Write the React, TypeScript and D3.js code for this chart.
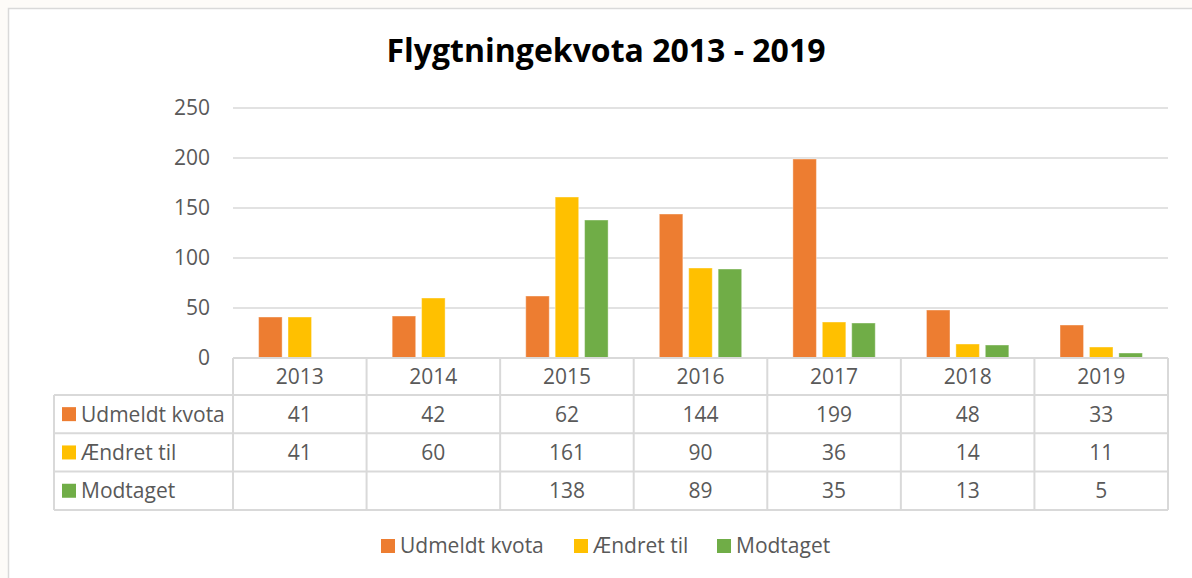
import React from "react";
import * as d3 from "d3";

const years = ["2013", "2014", "2015", "2016", "2017", "2018", "2019"];
const seriesNames = ["Udmeldt kvota", "Ændret til", "Modtaget"];
const seriesColors = ["#ED7D31", "#FFC000", "#70AD47"];
const udmeldt: (number | null)[] = [41, 42, 62, 144, 199, 48, 33];
const aendret: (number | null)[] = [41, 60, 161, 90, 36, 14, 11];
const modtaget: (number | null)[] = [null, null, 138, 89, 35, 13, 5];
const yTicks = [0, 50, 100, 150, 200, 250];
const title = "Flygtningekvota 2013 - 2019";

const W = 1192;
const H = 578;
const FONT = "'Open Sans', sans-serif";
const TXT = "#595959";
const GRID = "#d9d9d9";

export default function App() {
  const series = [udmeldt, aendret, modtaget];
  const plotL = 233, plotR = 1168, plotT = 108, plotB = 358;
  const tableL = 54;
  const rowH = 38.3;
  const headerB = 395;
  const rowYs = [headerB, headerB + rowH, headerB + 2 * rowH, headerB + 3 * rowH];

  const x0 = d3.scaleBand<string>().domain(years).range([plotL, plotR]).padding(0);
  const x1 = d3.scaleBand<number>().domain([0, 1, 2]).range([0, x0.bandwidth()]).paddingInner(0.2).paddingOuter(0.87);
  const y = d3.scaleLinear().domain([0, 250]).range([plotB, plotT]);

  const legendX = [381, 574, 717];

  return (
    <svg width={W} height={H} style={{ position: "absolute", left: 0, top: 0 }} fontFamily={FONT}>
      <rect x={0} y={0} width={W} height={H} fill="#fdfbf8" />
      <rect x={8.5} y={8.5} width={W + 20} height={H + 20} fill="#ffffff" stroke={GRID} strokeWidth={1.5} />
      <text x={606} y={62} textAnchor="middle" fontSize={32} fontWeight="bold" fill="#000">{title}</text>

      {yTicks.map((t) => (
        <g key={t}>
          {t !== 0 && <line x1={plotL} x2={plotR} y1={y(t)} y2={y(t)} stroke={GRID} strokeWidth={1.5} />}
          <text x={210} y={y(t)} dy="0.35em" textAnchor="end" fontSize={21} fill={TXT}>{t}</text>
        </g>
      ))}

      {series.map((vals, si) =>
        vals.map((v, i) =>
          v == null ? null : (
            <rect key={`${si}-${i}`} x={(x0(years[i]) as number) + (x1(si) as number)} y={y(v)}
              width={x1.bandwidth()} height={y(0) - y(v)} fill={seriesColors[si]} stroke="#ffffff" strokeOpacity={0.4} strokeWidth={1} />
          )
        )
      )}

      {/* table grid */}
      <line x1={plotL} x2={plotR} y1={plotB} y2={plotB} stroke={GRID} strokeWidth={2} />
      {rowYs.map((ry, k) => (
        <line key={k} x1={tableL} x2={plotR} y1={ry} y2={ry} stroke={GRID} strokeWidth={2} />
      ))}
      <line x1={tableL} x2={tableL} y1={headerB} y2={rowYs[3]} stroke={GRID} strokeWidth={2} />
      {years.map((yr) => (
        <line key={yr} x1={x0(yr) as number} x2={x0(yr) as number} y1={plotB} y2={rowYs[3]} stroke={GRID} strokeWidth={2} />
      ))}
      <line x1={plotR} x2={plotR} y1={plotB} y2={rowYs[3]} stroke={GRID} strokeWidth={2} />

      {years.map((yr) => (
        <text key={yr} x={(x0(yr) as number) + x0.bandwidth() / 2} y={(plotB + headerB) / 2} dy="0.35em" textAnchor="middle" fontSize={21} fill={TXT}>{yr}</text>
      ))}

      {series.map((vals, si) => {
        const cy = rowYs[si] + rowH / 2;
        return (
          <g key={si}>
            <rect x={62} y={cy - 7} width={14} height={14} fill={seriesColors[si]} />
            <text x={81} y={cy} dy="0.35em" fontSize={21} fill={TXT}>{seriesNames[si]}</text>
            {vals.map((v, i) =>
              v == null ? null : (
                <text key={i} x={(x0(years[i]) as number) + x0.bandwidth() / 2} y={cy} dy="0.35em" textAnchor="middle" fontSize={21} fill={TXT}>{v}</text>
              )
            )}
          </g>
        );
      })}

      {seriesNames.map((n, si) => (
        <g key={n}>
          <rect x={legendX[si]} y={539} width={14} height={14} fill={seriesColors[si]} />
          <text x={legendX[si] + 19} y={546} dy="0.35em" fontSize={21} fill={TXT}>{n}</text>
        </g>
      ))}
    </svg>
  );
}
